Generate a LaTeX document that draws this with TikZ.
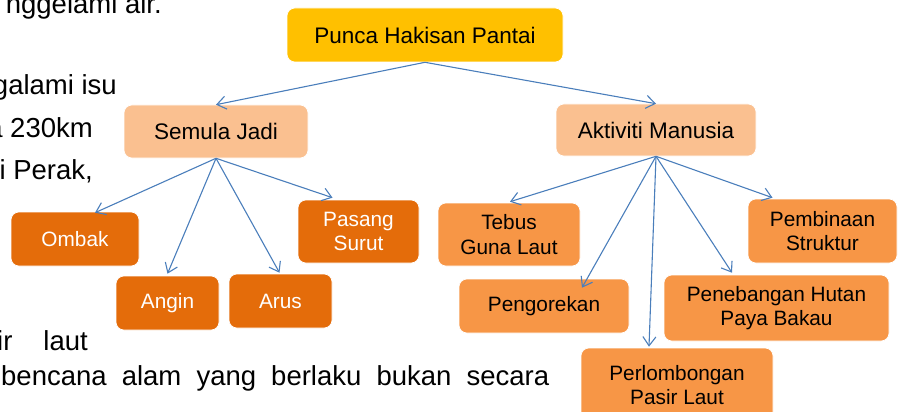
\documentclass[tikz,border=0pt]{standalone}
\usepackage{fontspec}
\setmainfont{Liberation Sans}
\usetikzlibrary{arrows.meta, calc}

\definecolor{gold}{HTML}{FFC000}
\definecolor{peach}{HTML}{FAC090}
\definecolor{midorange}{HTML}{F79646}
\definecolor{darkorange}{HTML}{E46C0A}
\definecolor{linkblue}{HTML}{4A7EBB}

\begin{document}
\begin{tikzpicture}[
  x=1pt, y=-1pt,
  box/.style={rectangle, rounded corners=8pt, draw=white, line width=0.6pt,
              align=center, inner sep=2pt},
  head/.style={box, fill=gold, font=\fontsize{22.5}{26}\selectfont},
  cause/.style={box, fill=peach, font=\fontsize{22.5}{26}\selectfont},
  nature/.style={box, fill=darkorange, text=white, font=\fontsize{20.8}{24.5}\selectfont},
  human/.style={box, fill=midorange, font=\fontsize{20.8}{24.5}\selectfont},
  link/.style={draw=linkblue, line width=1.1pt,
               -{Straight Barb[length=9pt, width=13pt]}},
  body/.style={inner sep=0pt, font=\fontsize{27.5}{33}\selectfont}
]
  \useasboundingbox (0,0) rectangle (898,412);
  \clip (0,0) rectangle (898,412);

  % page text behind the chart
  \node[body, anchor=base east] (t1) at (162,13.5) {nggelami air.};
  \node[body, anchor=base east] (t2) at (117,95) {galami isu};
  \node[body, anchor=base east] (t3) at (93,137) {a 230km};
  \node[body, anchor=base east] (t4) at (93,179) {i Perak,};
  \node[body, anchor=base east] (t5) at (88,350) {ir\hspace{31pt}laut};
  \node[body, anchor=base west] (t6) at (1,385)
    {\makebox[548pt][s]{bencana alam yang berlaku bukan secara}};

  % chart
  \node[head, minimum width=276pt, minimum height=54pt] (punca) at (425,35) {Punca Hakisan Pantai};

  \node[cause, minimum width=184pt, minimum height=53pt] (semula) at (216,131.5) {Semula Jadi};
  \node[cause, minimum width=200pt, minimum height=52pt] (aktiviti) at (656,130) {Aktiviti Manusia};

  \node[nature, minimum width=128pt, minimum height=54pt] (ombak) at (75,239) {Ombak};
  \node[nature, minimum width=103pt, minimum height=54pt] (angin) at (167.5,303) {Angin};
  \node[nature, minimum width=103pt, minimum height=54pt] (arus) at (280.5,301) {Arus};
  \node[nature, minimum width=121pt, minimum height=63pt] (pasang) at (358.5,231.5) {Pasang\\Surut};

  \node[human, minimum width=142pt, minimum height=63pt] (tebus) at (509,234.5) {Tebus\\Guna Laut};
  \node[human, minimum width=170pt, minimum height=54pt] (korek) at (544,306) {Pengorekan};
  \node[human, minimum width=192pt, minimum height=74pt] (lombong) at (677,385) {Perlombongan\\Pasir Laut};
  \node[human, minimum width=225pt, minimum height=66pt] (tebang) at (776.5,308) {Penebangan Hutan\\Paya Bakau};
  \node[human, minimum width=149pt, minimum height=64pt] (bina) at (822.5,231) {Pembinaan\\Struktur};

  \draw[link] (punca.south) -- (semula.north);
  \draw[link] (punca.south) -- (aktiviti.north);

  \draw[link] (semula.south) -- ($(ombak.north)+(20,1)$);
  \draw[link] (semula.south) -- ($(angin.north)+(0,-2)$);
  \draw[link] (semula.south) -- ($(arus.north)+(-1,-1)$);
  \draw[link] (semula.south) -- ($(pasang.north)+(-26,-2)$);

  \draw[link] (aktiviti.south) -- ($(tebus.north)+(1,-1)$);
  \draw[link] (aktiviti.south) -- ($(korek.north)+(38,9)$);
  \draw[link] (aktiviti.south) -- ($(lombong.north)+(-28,-1)$);
  \draw[link] (aktiviti.south) -- ($(tebang.north)+(-44.5,-2)$);
  \draw[link] (aktiviti.south) -- ($(bina.north)+(-50,-1)$);
\end{tikzpicture}
\end{document}
